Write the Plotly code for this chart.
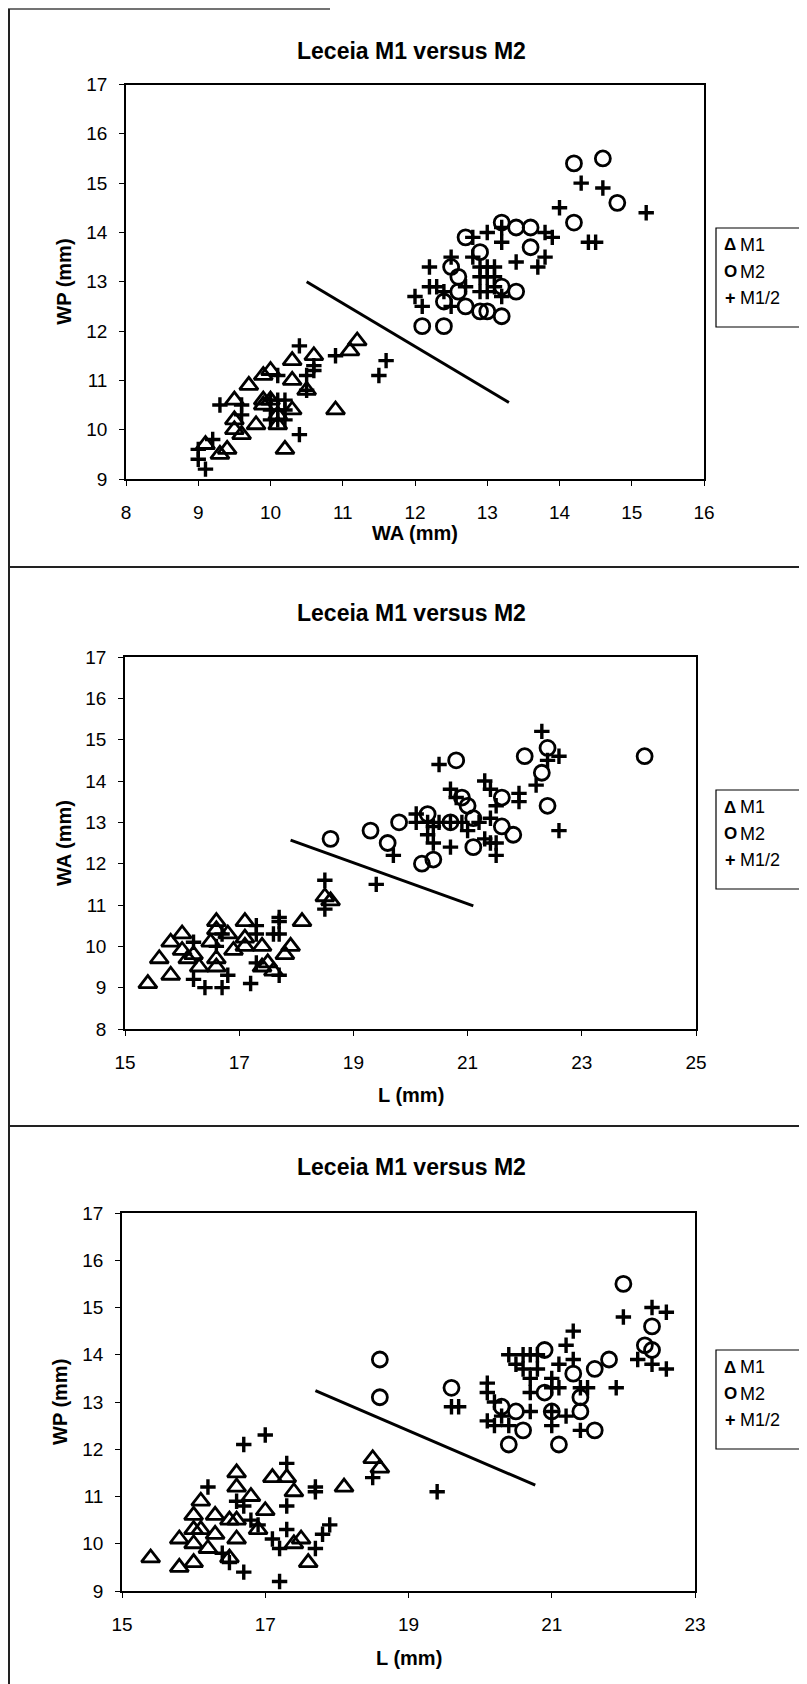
import plotly.graph_objects as go

# ---------------- data ----------------
# Panel 1: WA (x) vs WP (y)
p1_m1_x = [11.2, 11.1, 10.9, 10.2, 10.6, 10.3, 10.0, 9.9, 9.7, 9.5, 10.3, 9.9, 10.3, 10.1, 9.8, 9.5, 9.5, 9.6, 9.4, 9.3, 9.1, 10.5, 10.0, 9.9, 10.1]
p1_m1_y = [11.8, 11.6, 10.4, 9.6, 11.5, 11.4, 11.2, 11.1, 10.9, 10.6, 11.0, 10.6, 10.4, 10.1, 10.1, 10.0, 10.2, 9.9, 9.6, 9.5, 9.7, 10.8, 10.6, 10.5, 10.3]
p1_m2_x = [14.2, 14.6, 14.8, 14.2, 13.2, 13.4, 13.6, 13.6, 12.7, 12.9, 12.5, 12.6, 13.4, 12.6, 12.4, 12.7, 12.9, 13.0, 13.2, 12.1, 12.4, 13.2]
p1_m2_y = [15.4, 15.5, 14.6, 14.2, 14.2, 14.1, 14.1, 13.7, 13.9, 13.6, 13.3, 13.1, 12.8, 12.8, 12.6, 12.5, 12.4, 12.4, 12.3, 12.1, 12.1, 12.9]
p1_m12_x = [15.2, 14.6, 14.3, 14.0, 14.4, 14.5, 13.8, 13.9, 13.8, 13.7, 13.4, 13.0, 13.2, 13.2, 12.8, 12.8, 12.5, 12.2,
            12.2, 12.3, 12.0, 12.1, 12.4, 12.5, 12.7, 12.9, 12.9, 12.9, 13.0, 13.0, 13.0, 13.1, 13.1, 13.1, 13.2,
            11.6, 11.5, 10.9, 10.4, 10.6, 10.6, 10.5, 10.1, 10.5, 9.3, 10.4, 9.0, 9.0, 9.1, 9.2, 10.0, 10.1, 10.2,
            10.0, 10.1, 10.2, 10.0, 10.1, 10.2, 9.6, 9.6]
p1_m12_y = [14.4, 14.9, 15.0, 14.5, 13.8, 13.8, 14.0, 13.9, 13.5, 13.3, 13.4, 14.0, 14.1, 13.8, 13.9, 13.5, 13.5, 13.3,
            12.9, 12.9, 12.7, 12.5, 12.8, 12.5, 12.9, 13.3, 13.1, 12.8, 13.3, 13.1, 12.8, 13.3, 13.1, 12.9, 12.7,
            11.4, 11.1, 11.5, 11.7, 11.2, 11.3, 11.1, 11.1, 10.8, 10.5, 9.9, 9.6, 9.4, 9.2, 9.8, 10.4, 10.4, 10.4,
            10.2, 10.2, 10.2, 10.6, 10.6, 10.6, 10.3, 10.5]
p1_line_x = [10.5, 13.3]
p1_line_y = [13.0, 10.55]

# Panel 2: L (x) vs WA (y)
p2_m1_x = [15.4, 15.6, 15.8, 15.8, 16.0, 16.0, 16.1, 16.2, 16.3, 16.5, 16.6, 16.6, 16.6, 16.6, 16.8, 16.9, 17.1, 17.1, 17.1, 17.4, 17.4, 17.5, 17.6, 17.9, 17.8, 18.1, 18.5, 18.6]
p2_m1_y = [9.1, 9.7, 9.3, 10.1, 10.3, 9.9, 9.7, 9.8, 9.5, 10.1, 10.6, 10.4, 9.7, 9.5, 10.3, 9.9, 10.6, 10.2, 10.0, 10.0, 9.5, 9.6, 9.4, 10.0, 9.8, 10.6, 11.2, 11.1]
p2_m2_x = [24.1, 22.4, 22.0, 22.3, 22.4, 20.8, 20.9, 21.0, 21.6, 20.3, 19.8, 19.3, 19.6, 18.6, 20.2, 20.4, 21.1, 21.6, 21.8, 21.1, 20.7]
p2_m2_y = [14.6, 14.8, 14.6, 14.2, 13.4, 14.5, 13.6, 13.4, 13.6, 13.2, 13.0, 12.8, 12.5, 12.6, 12.0, 12.1, 12.4, 12.9, 12.7, 13.1, 13.0]
p2_m12_x = [22.3, 22.6, 22.4, 22.2, 22.6, 20.5, 20.7, 20.8, 21.3, 21.4, 21.5, 21.9, 21.9, 20.1, 20.1, 20.3, 20.4, 20.3,
            20.4, 20.7, 20.5, 20.7, 20.9, 21.0, 21.3, 21.4, 21.5, 21.5, 21.2, 21.4, 19.7, 19.4, 18.5, 18.5, 17.7,
            17.7, 17.7, 17.6, 17.7, 17.3, 17.3, 17.2, 17.3, 16.8, 16.7, 16.4, 16.2, 16.2, 16.7, 16.6]
p2_m12_y = [15.2, 14.6, 14.5, 13.9, 12.8, 14.4, 13.8, 13.6, 14.0, 13.8, 13.4, 13.7, 13.5, 13.2, 13.0, 13.0, 12.9, 12.7,
            12.5, 12.4, 13.0, 13.0, 13.0, 12.8, 12.6, 12.5, 12.5, 12.2, 13.0, 13.1, 12.2, 11.5, 11.6, 10.9, 10.7,
            10.6, 10.3, 10.3, 9.3, 10.5, 10.3, 9.1, 9.6, 9.3, 9.0, 9.0, 10.1, 9.2, 10.3, 10.0]
p2_line_x = [17.9, 21.1]
p2_line_y = [12.57, 10.98]

# Panel 3: L (x) vs WP (y)
p3_m1_x = [15.4, 15.8, 16.0, 15.8, 16.0, 16.0, 16.0, 16.1, 16.1, 16.2, 16.3, 16.3, 16.5, 16.5, 16.6, 16.6, 16.6, 16.6, 16.8, 17.0, 16.9, 17.1, 17.3, 17.4, 17.4, 17.5, 17.6, 18.1, 18.5, 18.6]
p3_m1_y = [9.7, 9.5, 9.6, 10.1, 10.0, 10.3, 10.6, 10.9, 10.3, 9.9, 10.6, 10.2, 9.7, 10.5, 10.5, 10.1, 11.5, 11.2, 11.0, 10.7, 10.3, 11.4, 11.4, 11.1, 10.0, 10.1, 9.6, 11.2, 11.8, 11.6]
p3_m2_x = [22.0, 22.4, 22.3, 22.4, 21.8, 21.6, 21.3, 21.4, 21.4, 21.6, 21.1, 20.9, 20.9, 21.0, 20.6, 20.4, 20.3, 20.5, 19.6, 18.6, 18.6]
p3_m2_y = [15.5, 14.6, 14.2, 14.1, 13.9, 13.7, 13.6, 13.1, 12.8, 12.4, 12.1, 14.1, 13.2, 12.8, 12.4, 12.1, 12.9, 12.8, 13.3, 13.9, 13.1]
p3_m12_x = [22.4, 22.6, 22.0, 21.3, 21.2, 21.3, 22.2, 22.4, 22.6, 21.9, 21.1, 21.0, 20.7, 20.8, 20.4, 20.6, 20.7, 20.8,
            20.5, 20.6, 20.7, 21.0, 21.1, 20.1, 20.1, 20.2, 20.1, 20.2, 20.4, 20.3, 20.7, 21.0, 21.2, 21.0, 21.4,
            21.5, 21.4, 19.6, 19.7,
            16.7, 17.0, 17.3, 17.3, 17.7, 17.7, 17.9, 17.8, 17.7, 17.3, 17.2, 16.7, 17.2, 16.2, 16.4, 16.5, 16.6,
            16.8, 16.9, 18.5, 19.4, 16.7, 17.1]
p3_m12_y = [15.0, 14.9, 14.8, 14.5, 14.2, 13.9, 13.9, 13.8, 13.7, 13.3, 13.8, 13.5, 13.5, 13.7, 14.0, 14.0, 14.0, 14.0,
            13.8, 13.7, 13.2, 13.3, 13.3, 13.4, 13.2, 13.0, 12.6, 12.5, 12.5, 12.7, 12.8, 12.8, 12.7, 12.5, 13.3,
            13.3, 12.4, 12.9, 12.9,
            12.1, 12.3, 11.7, 10.8, 11.2, 11.1, 10.4, 10.2, 9.9, 10.3, 9.9, 9.4, 9.2, 11.2, 9.8, 9.6, 10.9,
            10.5, 10.4, 11.4, 11.1, 10.8, 10.1]
p3_line_x = [17.7, 20.77]
p3_line_y = [13.24, 11.24]

series_names = ["M1", "M2", "M1/2"]
legend_glyphs = ["Δ", "O", "+"]
title_text = "Leceia M1 versus M2"
x_titles = ["WA (mm)", "L (mm)", "L (mm)"]
y_titles = ["WP (mm)", "WA (mm)", "WP (mm)"]

# ---------------- layout / styling ----------------
W, H = 807, 1684
OFF = 8  # default page margin of the html body; positions below are page pixels
TICK_FONT = "Liberation Sans Narrow, Arial Narrow, Liberation Sans, Arial, sans-serif"
BOLD_FONT = "Liberation Sans, Arial, sans-serif"


def px(v):
    return (v - OFF) / W


def py(v):
    return 1 - (v - OFF) / H


panels = [
    dict(mx=[p1_m1_x, p1_m2_x, p1_m12_x], my=[p1_m1_y, p1_m2_y, p1_m12_y], lx=p1_line_x, ly=p1_line_y,
         plot=(126, 704, 84.5, 479), xr=[8, 16], xd=1, yr=[9, 17],
         title_y=51, xt_y=533, yt_x=64, legend_top=228),
    dict(mx=[p2_m1_x, p2_m2_x, p2_m12_x], my=[p2_m1_y, p2_m2_y, p2_m12_y], lx=p2_line_x, ly=p2_line_y,
         plot=(125, 696, 657, 1029), xr=[15, 25], xd=2, yr=[8, 17],
         title_y=613, xt_y=1095, yt_x=64, legend_top=790),
    dict(mx=[p3_m1_x, p3_m2_x, p3_m12_x], my=[p3_m1_y, p3_m2_y, p3_m12_y], lx=p3_line_x, ly=p3_line_y,
         plot=(122, 695, 1213, 1591), xr=[15, 23], xd=2, yr=[9, 17],
         title_y=1167, xt_y=1658, yt_x=60, legend_top=1350),
]

symbols = ["triangle-up-open", "circle-open", "cross-thin-open"]
sizes = [16, 15, 11]
lwidths = [2.8, 2.8, 3.4]

fig = go.Figure()
layout_axes = {}
annotations = []
shapes = []

LEG_X0, LEG_X1, LEG_H = 716, 800, 99

for i, p in enumerate(panels):
    n = "" if i == 0 else str(i + 1)
    xa, ya = "x" + n, "y" + n
    for k in range(3):
        fig.add_trace(go.Scatter(
            x=p["mx"][k], y=p["my"][k], mode="markers", xaxis=xa, yaxis=ya,
            showlegend=False, name=series_names[k],
            marker=dict(symbol=symbols[k], size=sizes[k], color="black",
                        line=dict(color="black", width=lwidths[k])),
        ))
    fig.add_trace(go.Scatter(x=p["lx"], y=p["ly"], mode="lines", xaxis=xa, yaxis=ya,
                             showlegend=False, line=dict(color="black", width=3)))
    x0, x1, y0, y1 = p["plot"]
    ax_common = dict(showline=True, mirror=True, linecolor="black", linewidth=1.5,
                     ticks="outside", ticklen=5, tickwidth=1.3, tickcolor="black",
                     showgrid=False, zeroline=False,
                     tickfont=dict(family=TICK_FONT, size=19, color="black"))
    layout_axes["xaxis" + n] = dict(ax_common, domain=[px(x0), px(x1)], range=p["xr"],
                                    dtick=p["xd"], tick0=p["xr"][0], anchor=ya,
                                    ticklabelstandoff=10)
    layout_axes["yaxis" + n] = dict(ax_common, domain=[py(y1), py(y0)], range=p["yr"],
                                    dtick=1, anchor=xa, ticklabelstandoff=8)

    # manual legend box
    lt = p["legend_top"]
    shapes.append(dict(type="rect", xref="paper", yref="paper",
                       x0=px(LEG_X0), x1=px(LEG_X1), y0=py(lt + LEG_H), y1=py(lt),
                       line=dict(color="black", width=1.2), fillcolor="white"))
    for k in range(3):
        ry = lt + 17 + k * 26.7
        annotations.append(dict(text=f"<b>{legend_glyphs[k]}</b>", x=px(730), y=py(ry),
                                xref="paper", yref="paper", showarrow=False,
                                xanchor="center", yanchor="middle",
                                font=dict(family=BOLD_FONT, size=17 if k != 2 else 18, color="black")))
        annotations.append(dict(text=series_names[k], x=px(738), y=py(ry),
                                xref="paper", yref="paper", showarrow=False,
                                xanchor="left", yanchor="middle",
                                font=dict(family=BOLD_FONT, size=18, color="black")))

    annotations.append(dict(text=f"<b>{title_text}</b>", x=px(411), y=py(p["title_y"]),
                            xref="paper", yref="paper", showarrow=False,
                            xanchor="center", yanchor="middle",
                            font=dict(family=BOLD_FONT, size=23, color="black")))
    annotations.append(dict(text=f"<b>{x_titles[i]}</b>", x=px((x0 + x1) / 2), y=py(p["xt_y"]),
                            xref="paper", yref="paper", showarrow=False,
                            xanchor="center", yanchor="middle",
                            font=dict(family=BOLD_FONT, size=20, color="black")))
    annotations.append(dict(text=f"<b>{y_titles[i]}</b>", x=px(p["yt_x"]), y=py((y0 + y1) / 2),
                            xref="paper", yref="paper", showarrow=False, textangle=-90,
                            xanchor="center", yanchor="middle",
                            font=dict(family=BOLD_FONT, size=20, color="black")))

for yy in [567, 1126]:
    shapes.append(dict(type="line", xref="paper", yref="paper", x0=0, x1=1,
                       y0=py(yy), y1=py(yy), line=dict(color="#222", width=2)))
shapes.append(dict(type="line", xref="paper", yref="paper", x0=0, x1=px(330),
                   y0=py(9), y1=py(9), line=dict(color="#444", width=1.5)))
shapes.append(dict(type="line", xref="paper", yref="paper", x0=px(9), x1=px(9), y0=0, y1=py(9),
                   line=dict(color="#222", width=2)))
shapes.append(dict(type="line", xref="paper", yref="paper", x0=px(803), x1=px(803),
                   y0=py(1126), y1=py(9), line=dict(color="#222", width=1.5)))

fig.update_layout(width=W, height=H, margin=dict(l=0, r=0, t=0, b=0, autoexpand=False),
                  showlegend=False,
                  paper_bgcolor="white", plot_bgcolor="white",
                  annotations=annotations, shapes=shapes, **layout_axes)

fig.write_html("out.html")
